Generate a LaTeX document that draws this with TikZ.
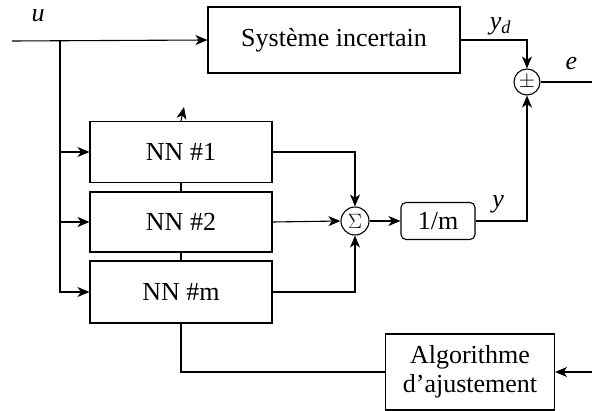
\documentclass[tikz,border=0pt]{standalone}
\usepackage{fontspec}
\setmainfont{Liberation Serif}
\usetikzlibrary{positioning}
\usetikzlibrary{arrows.meta}

\begin{document}
\begin{tikzpicture}
[x=1pt,y=-1pt,line width=1.1pt,
 >={Stealth[length=12pt,width=10pt,inset=3.5pt]},
 block/.style={shape=rectangle,draw,fill=white,inner sep=0pt,
   font=\fontsize{26}{29}\selectfont,align=center},
 nnblock/.style={block,minimum width=182pt,minimum height=61pt},
 junction/.style={shape=circle,draw,fill=white,inner sep=0pt,
   minimum size=26pt,font=\fontsize{20}{20}\selectfont},
 sig/.style={font=\fontsize{26}{26}\selectfont\itshape}]

\useasboundingbox (0,0) rectangle (592,411);

% plant and reference output
\node (sys) [block,minimum width=252pt,minimum height=66pt] at (334,40)
	{Système incertain};
\node (cmp) [junction] at (527,82) {\raisebox{1pt}{$\pm$}};

% bank of networks
\node (nn1) [nnblock] at (181,152) {NN \#1};
\node (nn2) [nnblock,minimum height=60pt] at (181,222) {NN \#2};
\node (nnm) [nnblock,minimum height=62pt] at (181,292) {NN \#m};

\node (sum) [junction,minimum size=28pt] at (355,221) {$\Sigma$};
\node (avg) [block,rounded corners=5pt,minimum width=74pt,minimum height=37pt]
	at (438,221) {1/m};
\node (adj) [block,minimum width=169pt,minimum height=76pt] at (470,372)
	{Algorithme\\d’ajustement};

% loose ends
\coordinate (u) at (12,41);
\coordinate (br) at (60,41);
\coordinate (e) at (592,82);
\coordinate (ein) at (592,372);
\coordinate (tip) at (184,107);

% input u
\draw [->] (u) -- (sys.west);
\node [sig] at (38,16) {u};
\draw [->] (br) |- (nn1.west);
\draw [->] (br) |- (nn2.west);
\draw [->] (br) |- (nnm.west);

% error
\draw [->] (sys.east) -| (cmp.north)
	node [sig,pos=0.3,above=1pt] {y\textsubscript{d}};
\draw (cmp.east) -- (e)
	node [sig,pos=0.6,above=8pt] {e};

% averaging
\draw [->] (nn1.east) -| (sum.north);
\draw [->] (nn2.east) -- (sum.west);
\draw [->] (nnm.east) -| (sum.south);
\draw [->] (sum.east) -- (avg.west);
\draw [->] (avg.east) -| (cmp.south)
	node [sig,pos=0.22,above=4pt] {y};

% tuning
\draw [->] (ein) -- (adj.east);
\draw (adj.west) -| (nnm.south);
\draw (nnm.north) -- (nn2.south);
\draw (nn2.north) -- (nn1.south);
\draw [->] (nn1.north) -- (tip);
\end{tikzpicture}
\end{document}
